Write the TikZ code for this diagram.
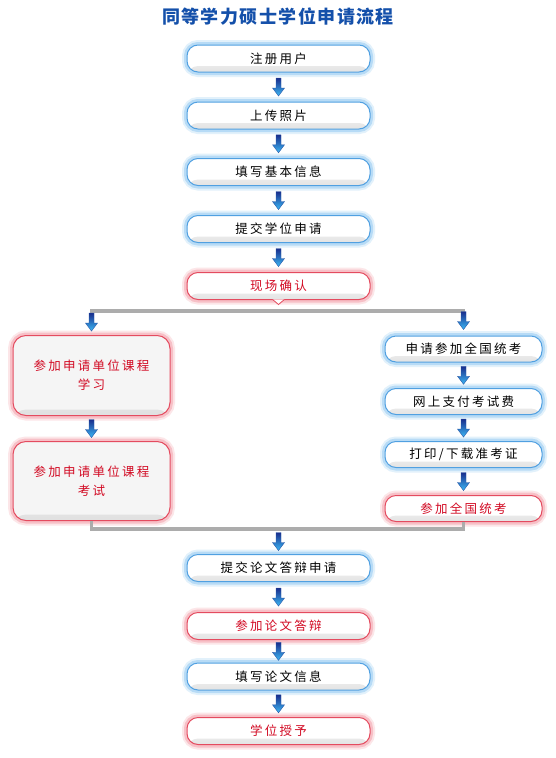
\documentclass[tikz,border=0pt]{standalone}
\usepackage{fontspec}
\newfontfamily\cjk[LetterSpace=18]{Noto Sans CJK SC}
\newfontfamily\cjktitle[LetterSpace=8]{Noto Sans CJK SC}
\usetikzlibrary{calc}
\definecolor{bglow}{RGB}{95,175,235}
\definecolor{bedge}{RGB}{80,160,225}
\definecolor{rglow}{RGB}{238,115,130}
\definecolor{redge}{RGB}{228,75,95}
\definecolor{redtxt}{RGB}{210,10,35}
\definecolor{titleblue}{RGB}{20,80,170}
\definecolor{lineg}{RGB}{172,172,172}
\definecolor{arrtop}{RGB}{25,45,140}
\definecolor{arrbot}{RGB}{60,185,245}
\definecolor{arredge}{RGB}{40,90,170}
\tikzset{
  box/.style={rounded corners=11pt, minimum height=27pt, inner sep=0pt,
    fill=white,
    path picture={\shade[top color=white, bottom color=black!11]
      ([yshift=6pt]path picture bounding box.south west) rectangle (path picture bounding box.south east);},
    font=\cjk\fontsize{12.5}{19}\selectfont, align=center, line width=1pt},
  bigbox/.style={minimum width=157pt, rounded corners=13pt, fill=black!4,
    path picture={\shade[top color=black!4, bottom color=black!12]
      ([yshift=6pt]path picture bounding box.south west) rectangle (path picture bounding box.south east);}},
  bluebox/.style={box, draw=bedge, text=black,
    preaction={draw=bglow!18, line width=10pt},
    preaction={draw=bglow!45, line width=6pt}},
  redbox/.style={box, draw=redge, text=redtxt,
    preaction={draw=rglow!18, line width=10pt},
    preaction={draw=rglow!45, line width=6pt}},
  gline/.style={draw=lineg, line width=3.5pt},
  darr/.pic={\draw[line width=0.4pt, draw=arredge, top color=arrtop, bottom color=arrbot]
    (-2.5,-9) -- (2.5,-9) -- (2.5,1) -- (6,1) -- (0,9) -- (-6,1) -- (-2.5,1) -- cycle;}
}
\begin{document}
\begin{tikzpicture}[x=1pt,y=-1pt]
\fill[white] (0,0) rectangle (555,758);
\useasboundingbox (0,0) rectangle (555,758);
\node[font=\cjktitle\bfseries\fontsize{18}{20}\selectfont, text=titleblue] (title) at (278,17) {同等学力硕士学位申请流程};
% central column, top
\node[bluebox, minimum width=183pt] (n1) at (278.5,58.5) {注册用户};
\node[bluebox, minimum width=183pt] (n2) at (278.5,115.5) {上传照片};
\node[bluebox, minimum width=183pt] (n3) at (278.5,172) {填写基本信息};
\node[bluebox, minimum width=183pt] (n4) at (278.5,229) {提交学位申请};
\node[redbox, minimum width=183pt] (xc) at (278.5,286) {现场确认};
\draw[draw=redge, fill=white, line width=0.8pt] ($(xc.south)+(-6,-0.6)$) -- ($(xc.south)+(0,4.5)$) -- ($(xc.south)+(6,-0.6)$);
% left branch
\node[redbox, bigbox, minimum height=80pt] (l1) at (91.5,375.5) {参加申请单位课程\\学习};
\node[redbox, bigbox, minimum height=79pt] (l2) at (91.5,481) {参加申请单位课程\\考试};
% right branch
\node[bluebox, minimum width=157pt, minimum height=26pt] (r1) at (463.5,349) {申请参加全国统考};
\node[bluebox, minimum width=157pt, minimum height=26pt] (r2) at (463.5,401.5) {网上支付考试费};
\node[bluebox, minimum width=157pt, minimum height=26pt] (r3) at (463.5,454.5) {打印/下载准考证};
\node[redbox, minimum width=157pt, minimum height=26pt] (r4) at (463.5,508.5) {参加全国统考};
% central column, bottom
\node[bluebox, minimum width=183pt] (m1) at (278.5,568) {提交论文答辩申请};
\node[redbox, minimum width=183pt] (m2) at (278.5,626) {参加论文答辩};
\node[bluebox, minimum width=183pt] (m3) at (278.5,676.5) {填写论文信息};
\node[redbox, minimum width=183pt] (m4) at (278.5,731) {学位授予};
% split and merge lines
\coordinate (sp) at ($(xc.south)+(0,11)$);
\coordinate (mg) at ($(m1.north)+(0,-25)$);
\draw[gline] ($(l1.north)+(0,-19)$) |- (sp) -| ($(r1.north)+(0,-19)$);
\draw[gline] (l2.south) |- (mg) -| (r4.south);
% arrows
\pic at ($(n1.south)!0.5!(n2.north)$) {darr};
\pic at ($(n2.south)!0.5!(n3.north)$) {darr};
\pic at ($(n3.south)!0.5!(n4.north)$) {darr};
\pic at ($(n4.south)!0.5!(xc.north)$) {darr};
\pic at ($(l1.north)+(0,-13)$) {darr};
\pic at ($(r1.north)+(0,-15)$) {darr};
\pic at ($(l1.south)!0.5!(l2.north)$) {darr};
\pic at ($(r1.south)!0.5!(r2.north)$) {darr};
\pic at ($(r2.south)!0.5!(r3.north)$) {darr};
\pic at ($(r3.south)!0.5!(r4.north)$) {darr};
\pic at ($(mg)!0.5!(m1.north)$) {darr};
\pic at ($(m1.south)!0.5!(m2.north)$) {darr};
\pic at ($(m2.south)!0.5!(m3.north)$) {darr};
\pic at ($(m3.south)!0.5!(m4.north)$) {darr};
\end{tikzpicture}
\end{document}
